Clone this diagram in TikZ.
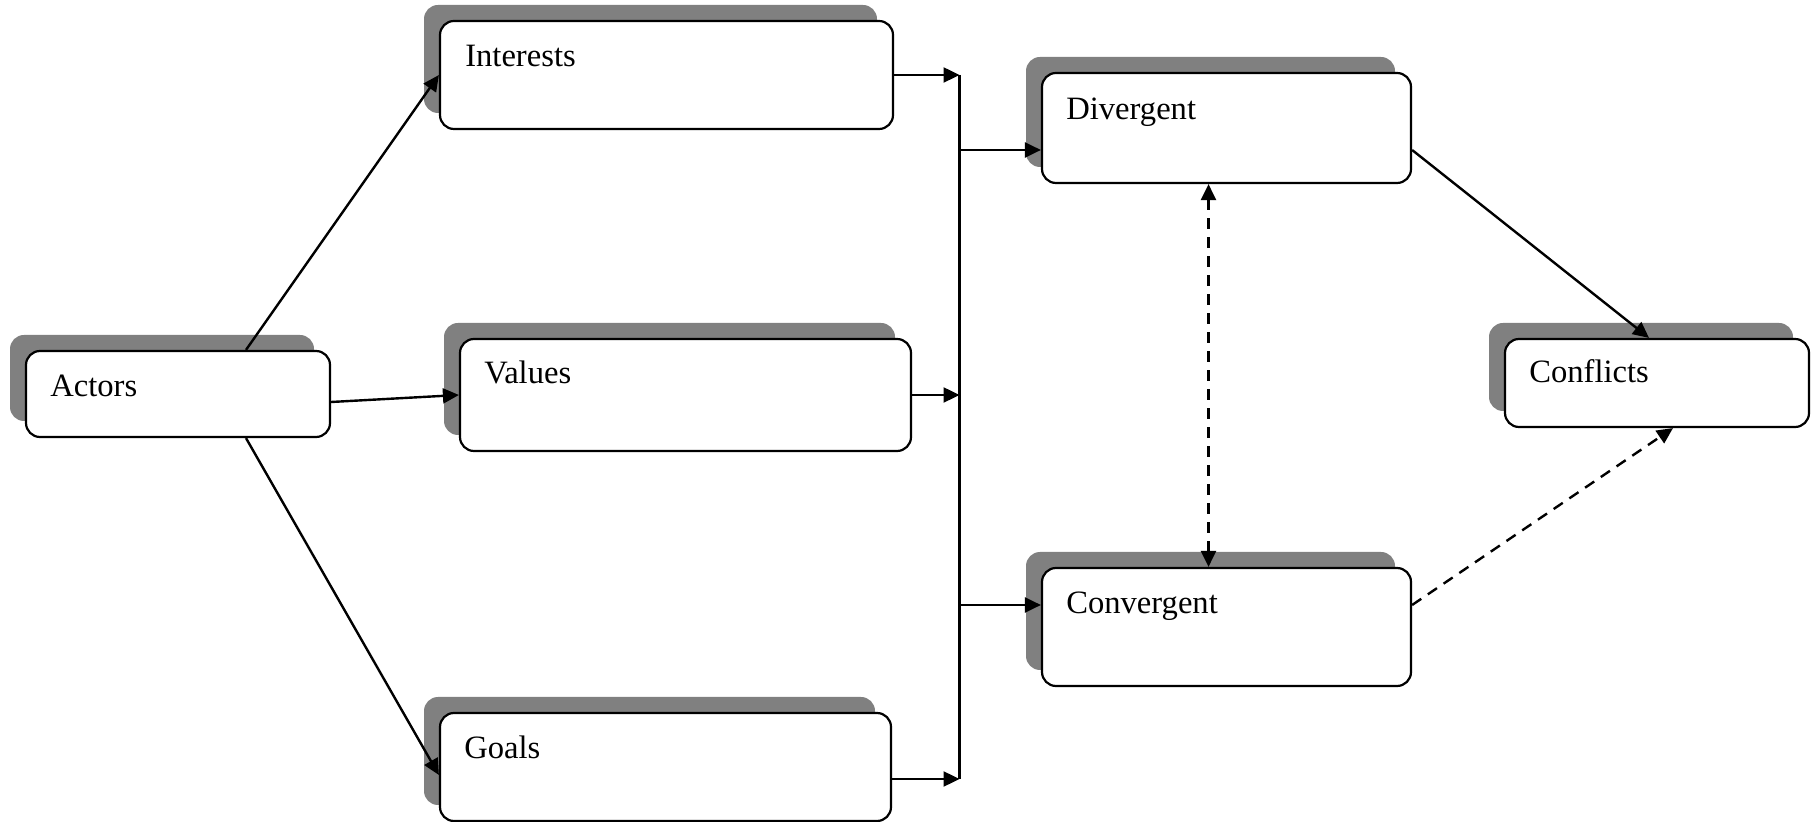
\documentclass[tikz,border=0pt]{standalone}
\usepackage{fontspec}
\setmainfont{Liberation Serif}
\usetikzlibrary{shadows,arrows.meta,calc}
\definecolor{shadowgray}{RGB}{128,128,128}
\tikzset{
  arrowhd/.tip={Triangle[length=8pt,width=7.5pt]},
  box/.style={draw=black, line width=1.1pt, fill=white, rounded corners=7pt, inner sep=0pt,
    drop shadow={shadow xshift=-8pt, shadow yshift=8pt, fill=shadowgray, opacity=1}},
  boxtext/.style={anchor=base west, inner sep=0pt, font=\fontsize{16.3}{19}\selectfont},
  link/.style={line width=1.2pt, -arrowhd},
  dlink/.style={line width=1.2pt, dash pattern=on 5.5pt off 4pt},
}
\begin{document}
\begin{tikzpicture}[x=0.5pt,y=-0.5pt]
\useasboundingbox (0,0) rectangle (1815,822);

% boxes
\node[box, minimum width=152pt,   minimum height=43pt] (act)  at (178,394)    {};
\node[box, minimum width=226.5pt, minimum height=54pt] (int)  at (666.5,75)   {};
\node[box, minimum width=225.5pt, minimum height=56pt] (val)  at (685.5,395)  {};
\node[box, minimum width=225.5pt, minimum height=54pt] (goal) at (665.5,767)  {};
\node[box, minimum width=184.5pt, minimum height=55pt] (div)  at (1226.5,128) {};
\node[box, minimum width=184.5pt, minimum height=59pt] (conv) at (1226.5,627) {};
\node[box, minimum width=152pt,   minimum height=44pt] (conf) at (1657,383)   {};

% labels in the upper left of each box
\node[boxtext] (actT)  at ([xshift=12.5pt,yshift=-23.5pt]act.north west)  {Actors};
\node[boxtext] (intT)  at ([xshift=13pt,yshift=-23.5pt]int.north west)    {Interests};
\node[boxtext] (valT)  at ([xshift=12.5pt,yshift=-23pt]val.north west)    {Values};
\node[boxtext] (goalT) at ([xshift=12.5pt,yshift=-23.5pt]goal.north west) {Goals};
\node[boxtext] (divT)  at ([xshift=12.5pt,yshift=-24pt]div.north west)    {Divergent};
\node[boxtext] (convT) at ([xshift=12.5pt,yshift=-23.5pt]conv.north west) {Convergent};
\node[boxtext] (confT) at ([xshift=12.5pt,yshift=-22.5pt]conf.north west) {Conflicts};

% actors to the three factors
\draw[link] ([xshift=34pt]act.north) -- (int.west);
\draw[link] ([yshift=-4pt]act.east) -- (val.west);
\draw[link] ([xshift=34pt]act.south) -- ([yshift=-4pt]goal.west);

% collecting bar
\coordinate (jx) at (959.5,0);
\coordinate (gout) at ([yshift=-6pt]goal.east);
\draw[line width=1.2pt] (int.east -| jx) -- (gout -| jx);
\draw[link] (int.east) -- (int.east -| jx);
\draw[link] (val.east) -- (val.east -| jx);
\draw[link] (gout) -- (gout -| jx);

% bar to divergent / convergent
\coordinate (din) at ([yshift=-11pt]div.west);
\coordinate (cin) at ([yshift=11pt]conv.west);
\draw[link] (din -| jx) -- (din);
\draw[link] (cin -| jx) -- (cin);

% between divergent and convergent
\draw[dlink, arrowhd-arrowhd] ([xshift=-9pt]div.south) -- ([xshift=-9pt]conv.north);

% to conflicts
\draw[link] ([yshift=-11pt]div.east) -- ([xshift=-4pt]conf.north);
\draw[dlink, -arrowhd] ([yshift=11pt]conv.east) -- ([xshift=8pt]conf.south);
\end{tikzpicture}
\end{document}
